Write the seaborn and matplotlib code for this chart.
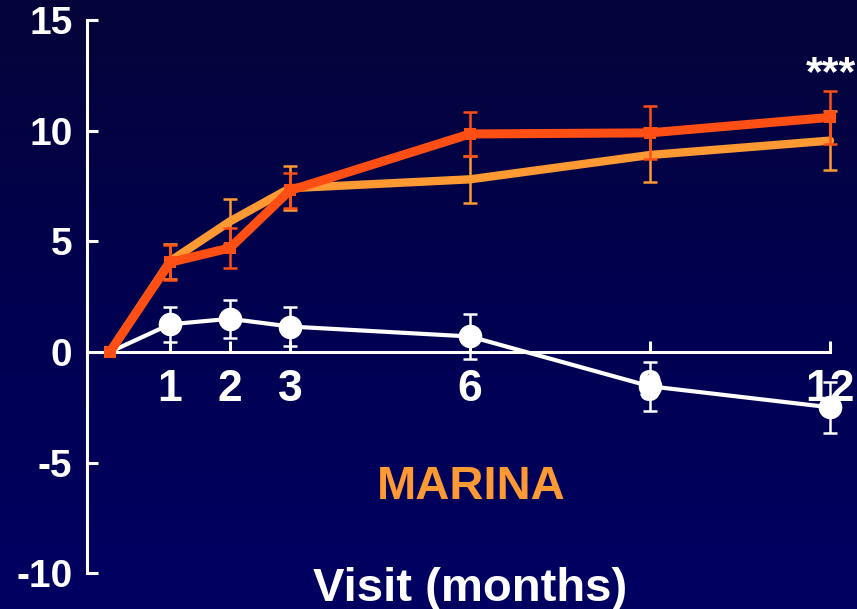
import numpy as np
import matplotlib
matplotlib.use("Agg")
import matplotlib.pyplot as plt
import seaborn as sns
from matplotlib.colors import LinearSegmentedColormap

# Mean change from baseline by visit, with standard errors
months = [0, 1, 2, 3, 6, 9, 12]
tick_months = [1, 2, 3, 6, 9, 12]
y_ticks = [-10, -5, 0, 5, 10, 15]

high_dose = [0, 4.05, 4.7, 7.3, 9.85, 9.9, 10.6]
high_dose_se = [0, 0.8, 0.9, 0.8, 1.0, 1.2, 1.2]

low_dose = [0, 4.1, 5.9, 7.4, 7.8, 8.9, 9.55]
low_dose_se = [0, 0.8, 1.0, 1.0, 1.05, 1.2, 1.35]

sham = [0, 1.25, 1.5, 1.15, 0.7, -1.55, -2.5]
sham_se = [0, 0.8, 0.85, 0.9, 1.0, 1.1, 1.15]

study_name = "MARINA"
x_title = "Visit (months)"
significance = "***"

RED = "#FF4F14"
ORANGE = "#FF9933"
WHITE = "#FFFFFF"

sns.set_theme(style="white")
plt.rcParams["font.family"] = ["Liberation Sans", "DejaVu Sans"]
plt.rcParams["font.weight"] = "bold"

fig = plt.figure(figsize=(8.57, 6.09), dpi=100)
fig.patch.set_facecolor("#020246")

# Vertical navy gradient behind everything
bg = fig.add_axes([0, 0, 1, 1], zorder=-10)
grad = np.linspace(0, 1, 256).reshape(-1, 1)
cmap = LinearSegmentedColormap.from_list("navy", ["#05053a", "#000050", "#000062"])
bg.imshow(grad, aspect="auto", cmap=cmap, extent=[0, 1, 0, 1], origin="upper")
bg.axis("off")

ax = fig.add_axes([0.1015, 0.0586, 0.8985, 0.9086])
ax.patch.set_alpha(0)

# (values, errors, colour, marker, marker size, line width, drawing order)
series = [
    (sham, sham_se, WHITE, "o", 17, 3.0, 3),
    (low_dose, low_dose_se, ORANGE, "s", 4, 6.0, 4),
    (high_dose, high_dose_se, RED, "s", 9, 6.5, 5),
]
for vals, se, col, mk, ms, lw, z in series:
    # baseline point is shown only by the square marker
    every = list(range(1, len(months))) if mk == "o" else None
    sns.lineplot(x=months, y=vals, ax=ax, color=col, linewidth=lw,
                 marker=mk, markersize=ms, markeredgewidth=0,
                 markevery=every, zorder=z)
    ax.errorbar(months[1:], vals[1:], yerr=se[1:], fmt="none", ecolor=col,
                elinewidth=1.8, capsize=5, capthick=1.8, zorder=z)

x_left = -0.383
ax.set_xlim(x_left, 12.45)
ax.set_ylim(-10, 15)
ax.set_xticks(tick_months)
ax.set_xticklabels([str(m) for m in tick_months])
ax.set_yticks(y_ticks)
ax.set_yticklabels([str(v) for v in y_ticks])

for side in ("top", "right"):
    ax.spines[side].set_visible(False)
ax.spines["bottom"].set_position(("data", 0))
ax.spines["bottom"].set_bounds(x_left, 12)
ax.spines["left"].set_bounds(-10, 15)
for side in ("bottom", "left"):
    ax.spines[side].set_color(WHITE)
    ax.spines[side].set_linewidth(2.2)

ax.tick_params(axis="both", which="major", direction="in", length=8, width=2.2,
               color=WHITE, labelcolor=WHITE, bottom=True, left=True)
ax.tick_params(axis="x", labelsize=32, pad=12.5)
ax.tick_params(axis="y", labelsize=28, pad=10.5)
for lab in ax.get_xticklabels() + ax.get_yticklabels():
    lab.set_fontweight("bold")

ax.text(11.6, 12.55, significance, ha="left", va="center", fontsize=31,
        color=WHITE, fontweight="bold", clip_on=False)
ax.text(6.02, -6.1, study_name, ha="center", va="center", fontsize=34,
        color=ORANGE, fontweight="bold")
ax.text(6.0, -11.25, x_title, ha="center", va="baseline", fontsize=34,
        color=WHITE, fontweight="bold", clip_on=False)

fig.savefig("out.png", dpi=100, facecolor=fig.get_facecolor())
